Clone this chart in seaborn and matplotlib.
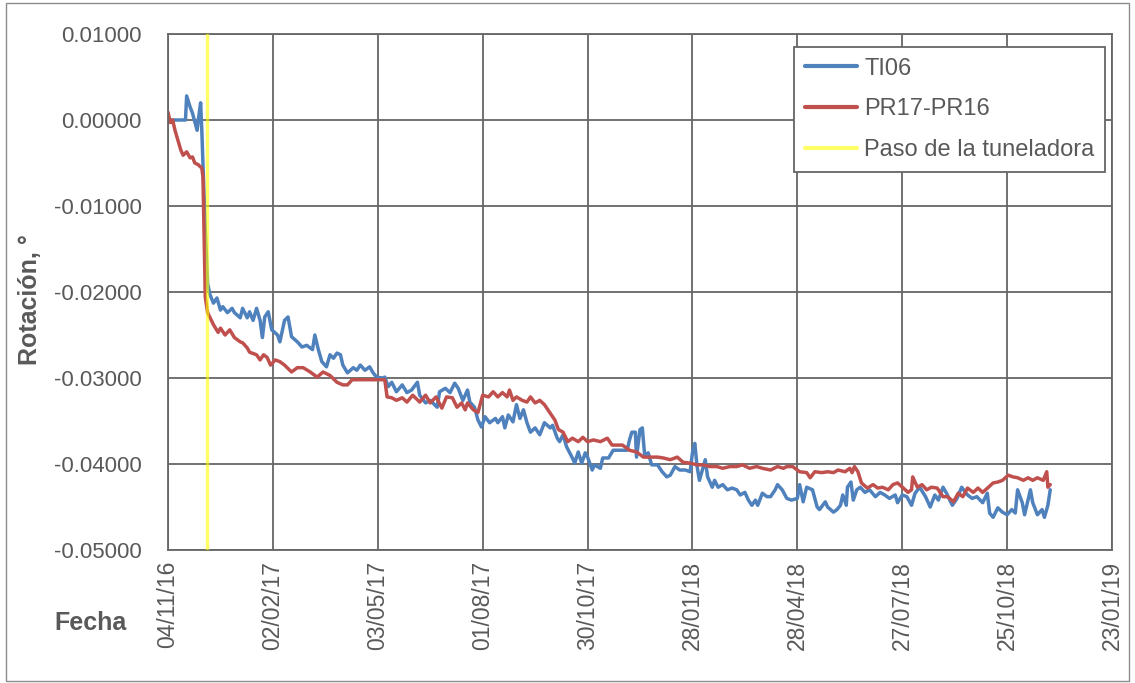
import pandas as pd
import numpy as np
import matplotlib
matplotlib.use("Agg")
import matplotlib.pyplot as plt
import matplotlib.dates as mdates
from matplotlib.lines import Line2D
from matplotlib.patches import Rectangle
from matplotlib.ticker import FuncFormatter
import seaborn as sns

# fecha de inicio de las lecturas y paso de la tuneladora
start = pd.Timestamp("2016-11-04")
tbm_pass = pd.Timestamp("2016-12-07 12:00")
x_end = pd.Timestamp("2019-01-23")

# (dias desde el inicio, rotacion en grados)
ti06 = [
    (0, 0.0), (15, 0.0), (16, 0.0028), (19, 0.0015), (21, 0.0008), (25, -0.0012),
    (26, 0.0), (28, 0.0020), (29, -0.0012), (30, -0.0050), (32, -0.0128), (34, -0.0190),
    (36, -0.0203), (39, -0.0213), (42, -0.0207), (45, -0.0221), (47, -0.0217), (51, -0.0224),
    (55, -0.0219), (57, -0.0224), (62, -0.0230), (64, -0.0219), (68, -0.0230), (70, -0.0223),
    (73, -0.0233), (76, -0.0219), (79, -0.0233), (81, -0.0253), (83, -0.0229), (86, -0.0223),
    (89, -0.0244), (94, -0.0250), (96, -0.0258), (100, -0.0233), (103, -0.0229), (106, -0.0252),
    (111, -0.0258), (115, -0.0264), (119, -0.0262), (124, -0.0267), (126, -0.0250), (129, -0.0267),
    (132, -0.0281), (136, -0.0287), (139, -0.0273), (142, -0.0277), (145, -0.0271), (148, -0.0273),
    (150, -0.0285), (154, -0.0294), (159, -0.0288), (162, -0.0291), (165, -0.0285), (169, -0.0291),
    (173, -0.0287), (176, -0.0294), (179, -0.0299), (184, -0.0300), (186, -0.0299), (189, -0.0310),
    (192, -0.0305), (196, -0.0316), (201, -0.0308), (205, -0.0317), (209, -0.0314), (214, -0.0305),
    (216, -0.0320), (221, -0.0329), (225, -0.0326), (231, -0.0334), (233, -0.0316), (238, -0.0312),
    (242, -0.0317), (246, -0.0306), (249, -0.0312), (253, -0.0326), (257, -0.0314), (259, -0.0328),
    (263, -0.0334), (266, -0.0349), (269, -0.0357), (272, -0.0345), (276, -0.0352), (281, -0.0347),
    (283, -0.0352), (287, -0.0345), (289, -0.0358), (292, -0.0343), (296, -0.0351), (299, -0.0331),
    (302, -0.0347), (305, -0.0337), (308, -0.0352), (311, -0.0363), (315, -0.0358), (319, -0.0366),
    (323, -0.0352), (328, -0.0358), (330, -0.0355), (334, -0.0370), (336, -0.0374), (339, -0.0366),
    (342, -0.0380), (347, -0.0393), (349, -0.0399), (352, -0.0386), (355, -0.0399), (358, -0.0387),
    (360, -0.0392), (364, -0.0407), (366, -0.0401), (371, -0.0405), (373, -0.0393), (378, -0.0393),
    (382, -0.0384), (388, -0.0384), (394, -0.0384), (396, -0.0372), (398, -0.0363), (401, -0.0363),
    (402, -0.0392), (405, -0.0360), (407, -0.0358), (409, -0.0390), (412, -0.0387), (415, -0.0401),
    (420, -0.0401), (424, -0.0409), (428, -0.0415), (431, -0.0413), (435, -0.0403), (439, -0.0407),
    (444, -0.0407), (448, -0.0409), (450, -0.0387), (452, -0.0376), (454, -0.0403), (456, -0.0419),
    (461, -0.0395), (463, -0.0415), (467, -0.0427), (469, -0.0419), (472, -0.0427), (476, -0.0424),
    (480, -0.0430), (484, -0.0428), (488, -0.0430), (491, -0.0436), (495, -0.0433), (498, -0.0442),
    (501, -0.0448), (504, -0.0442), (506, -0.0448), (510, -0.0434), (514, -0.0438), (517, -0.0438),
    (521, -0.0430), (523, -0.0424), (527, -0.0430), (531, -0.0440), (535, -0.0442), (540, -0.0440),
    (542, -0.0424), (545, -0.0444), (548, -0.0427), (553, -0.0430), (557, -0.0450), (559, -0.0453),
    (564, -0.0444), (566, -0.0450), (571, -0.0456), (574, -0.0453), (577, -0.0448), (579, -0.0436),
    (582, -0.0448), (583, -0.0427), (586, -0.0421), (588, -0.0442), (591, -0.0430), (594, -0.0427),
    (598, -0.0433), (602, -0.0430), (607, -0.0438), (611, -0.0433), (615, -0.0436), (619, -0.0440),
    (624, -0.0436), (626, -0.0445), (630, -0.0436), (634, -0.0438), (638, -0.0448), (641, -0.0434),
    (645, -0.0427), (650, -0.0438), (654, -0.0450), (658, -0.0436), (661, -0.0442), (665, -0.0427),
    (668, -0.0434), (673, -0.0448), (677, -0.0440), (681, -0.0427), (686, -0.0436), (690, -0.0440),
    (694, -0.0438), (699, -0.0445), (703, -0.0434), (705, -0.0457), (708, -0.0462), (712, -0.0451),
    (716, -0.0456), (720, -0.0459), (724, -0.0453), (727, -0.0457), (729, -0.0430), (733, -0.0445),
    (735, -0.0459), (740, -0.0430), (742, -0.0445), (746, -0.0459), (750, -0.0453), (752, -0.0462),
    (755, -0.0448), (757, -0.0430),
]

pr17_pr16 = [
    (0, 0.0009), (2, -0.0003), (4, 0.0), (6, -0.0012), (11, -0.0035), (13, -0.0041),
    (16, -0.0037), (19, -0.0044), (21, -0.0043), (23, -0.0050), (26, -0.0052), (29, -0.0056),
    (30, -0.0066), (32, -0.0206), (34, -0.0224), (39, -0.0238), (43, -0.0247), (45, -0.0242),
    (49, -0.0250), (53, -0.0244), (57, -0.0253), (62, -0.0258), (64, -0.0259), (68, -0.0265),
    (70, -0.0270), (76, -0.0273), (79, -0.0279), (82, -0.0273), (85, -0.0276), (88, -0.0285),
    (92, -0.0279), (96, -0.0281), (100, -0.0285), (106, -0.0293), (111, -0.0288), (116, -0.0288),
    (122, -0.0293), (128, -0.0299), (133, -0.0293), (139, -0.0297), (145, -0.0305), (150, -0.0308),
    (154, -0.0308), (158, -0.0302), (186, -0.0302), (188, -0.0322), (192, -0.0323), (196, -0.0326),
    (201, -0.0323), (205, -0.0328), (210, -0.0320), (216, -0.0328), (221, -0.0320), (225, -0.0329),
    (230, -0.0322), (235, -0.0335), (239, -0.0322), (244, -0.0323), (248, -0.0334), (252, -0.0329),
    (255, -0.0337), (257, -0.0329), (262, -0.0337), (266, -0.0340), (270, -0.0320), (275, -0.0322),
    (279, -0.0316), (283, -0.0322), (287, -0.0317), (291, -0.0322), (293, -0.0314), (296, -0.0326),
    (299, -0.0322), (304, -0.0326), (308, -0.0328), (311, -0.0322), (315, -0.0329), (319, -0.0326),
    (323, -0.0331), (326, -0.0337), (329, -0.0343), (332, -0.0349), (335, -0.0360), (339, -0.0363),
    (343, -0.0374), (347, -0.0370), (352, -0.0374), (356, -0.0369), (360, -0.0374), (365, -0.0372),
    (371, -0.0374), (377, -0.0370), (381, -0.0378), (385, -0.0378), (390, -0.0378), (396, -0.0384),
    (402, -0.0386), (408, -0.0392), (414, -0.0392), (420, -0.0392), (425, -0.0393), (431, -0.0395),
    (437, -0.0392), (442, -0.0398), (448, -0.0399), (454, -0.0401), (459, -0.0401), (465, -0.0403),
    (471, -0.0403), (476, -0.0405), (482, -0.0403), (488, -0.0403), (493, -0.0401), (499, -0.0405),
    (505, -0.0403), (510, -0.0405), (517, -0.0407), (523, -0.0403), (528, -0.0405), (531, -0.0403),
    (536, -0.0403), (542, -0.0409), (548, -0.0410), (551, -0.0416), (555, -0.0409), (561, -0.0410),
    (566, -0.0409), (571, -0.0410), (575, -0.0407), (581, -0.0409), (585, -0.0405), (587, -0.0410),
    (589, -0.0403), (592, -0.0409), (595, -0.0422), (600, -0.0428), (605, -0.0424), (609, -0.0428),
    (613, -0.0427), (618, -0.0430), (622, -0.0424), (626, -0.0422), (631, -0.0428), (635, -0.0433),
    (638, -0.0430), (639, -0.0415), (643, -0.0427), (647, -0.0424), (651, -0.0430), (655, -0.0427),
    (660, -0.0428), (665, -0.0438), (669, -0.0438), (674, -0.0444), (678, -0.0434), (682, -0.0438),
    (686, -0.0428), (691, -0.0433), (695, -0.0428), (699, -0.0433), (704, -0.0427), (708, -0.0422),
    (712, -0.0421), (716, -0.0419), (721, -0.0413), (725, -0.0415), (729, -0.0416), (734, -0.0419),
    (738, -0.0416), (742, -0.0419), (746, -0.0416), (751, -0.0419), (754, -0.0409), (755, -0.0427),
    (757, -0.0424),
]

series_names = ["TI06", "PR17-PR16"]
colors = {"TI06": "#4F81BD", "PR17-PR16": "#C0504D"}
pass_label = "Paso de la tuneladora"
y_ticks = [-0.05, -0.04, -0.03, -0.02, -0.01, 0.0, 0.01]


def to_frame(points, name):
    df = pd.DataFrame(points, columns=["dia", "rotacion"])
    df["fecha"] = start + pd.to_timedelta(df["dia"], unit="D")
    df["serie"] = name
    return df


data = pd.concat([to_frame(ti06, "TI06"), to_frame(pr17_pr16, "PR17-PR16")],
                 ignore_index=True)

sns.set_style("white")
plt.rcParams["font.family"] = ["Liberation Sans", "DejaVu Sans"]

W, H = 1135, 683
fig = plt.figure(figsize=(W / 100, H / 100), dpi=100)
ax = fig.add_axes([168 / W, 1 - 550 / H, 944 / W, 516 / H])

sns.lineplot(data=data, x="fecha", y="rotacion", hue="serie", hue_order=series_names,
             palette=colors, linewidth=2.5, estimator=None, sort=False,
             legend=False, ax=ax)
ax.axvline(tbm_pass, color="#FFFF00", alpha=0.6, lw=2.4, zorder=5)

# ejes
grid_c = "#666666"
ax.set_xlim(start, x_end)
ax.set_ylim(-0.05, 0.01)
ax.set_xticks(pd.date_range(start, x_end, freq="90D"))
ax.xaxis.set_major_formatter(mdates.DateFormatter("%d/%m/%y"))
ax.set_yticks(y_ticks)
ax.yaxis.set_major_formatter(FuncFormatter(lambda v, p: f"{round(v, 5) + 0.0:.5f}"))
ax.grid(True, color=grid_c, lw=1.3)
for s in ax.spines.values():
    s.set_color(grid_c)
    s.set_linewidth(1.3)
ax.tick_params(axis="both", length=0, colors="#595959")
ax.tick_params(axis="y", pad=19, labelsize=16)
ax.tick_params(axis="x", pad=8, labelrotation=90, labelsize=16.5)
ax.set_xlabel("")
ax.set_ylabel("")

fig.text(30 / W, 1 - 300 / H, "Rotación, °", rotation=90, ha="center", va="center",
         fontsize=18, fontweight="bold", color="#595959")
fig.text(90 / W, 1 - 623 / H, "Fecha", ha="center", va="center",
         fontsize=18, fontweight="bold", color="#595959")

handles = [Line2D([], [], color=colors["TI06"], lw=3),
           Line2D([], [], color=colors["PR17-PR16"], lw=3),
           Line2D([], [], color="#FFFF66", lw=3)]
leg = ax.legend(handles, series_names + [pass_label], loc="upper right",
                bbox_to_anchor=(0.9926, 0.975), borderaxespad=0, fancybox=False,
                framealpha=1, edgecolor=grid_c, fontsize=17, handlelength=2.2,
                handletextpad=0.3, labelspacing=0.8, borderpad=0.45)
leg.get_frame().set_linewidth(1.3)
for t in leg.get_texts():
    t.set_color("#595959")

fig.add_artist(Rectangle((6 / W, 2 / H), 1123 / W, 678 / H, transform=fig.transFigure,
                         fill=False, edgecolor="#8c8c8c", lw=1))

fig.savefig("out.png", dpi=100)
